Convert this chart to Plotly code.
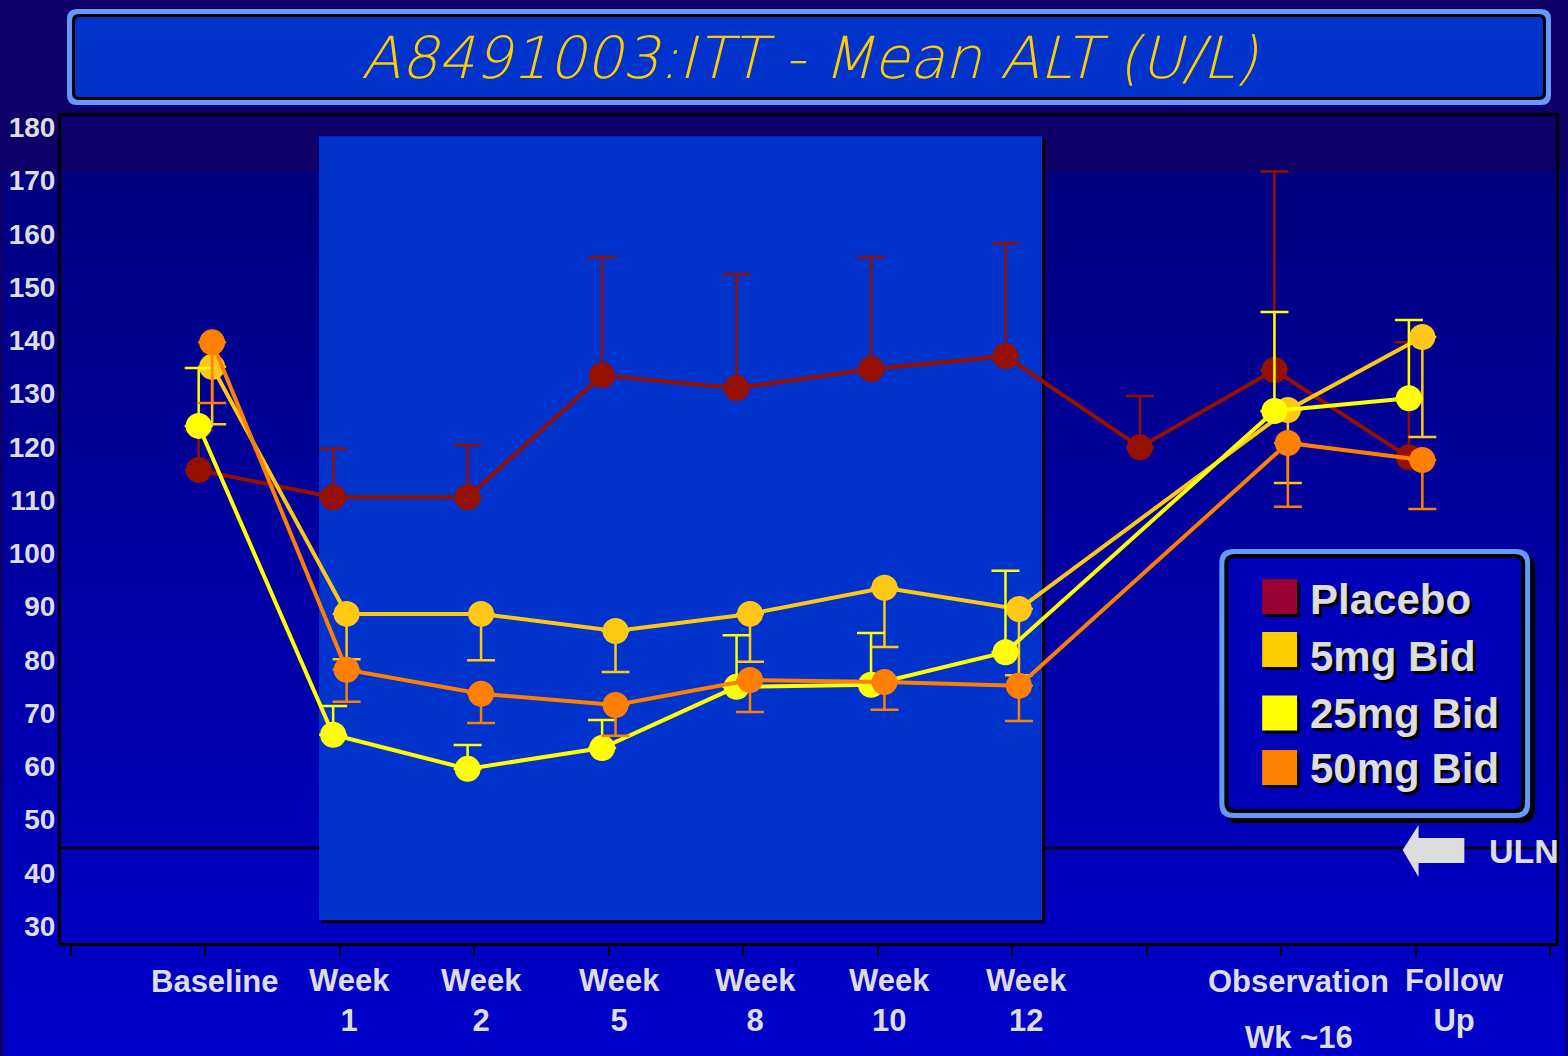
import numpy as np
import plotly.graph_objects as go

# ---------------- data ----------------
categories = ["Baseline", "Week<br>1", "Week<br>2", "Week<br>5", "Week<br>8",
              "Week<br>10", "Week<br>12", "", "Observation", "Follow<br>Up"]
cat_index = [1, 2, 3, 4, 5, 6, 7, 8, 9, 10]

series_names = ["Placebo", "5mg Bid", "25mg Bid", "50mg Bid"]

# Placebo has an extra point at the unlabeled position (index 8)
placebo_idx = [1, 2, 3, 4, 5, 6, 7, 8, 9, 10]
placebo_mean = [115.6, 110.5, 110.5, 133.4, 131.0, 134.6, 137.0, 119.9, 134.4, 118.0]
placebo_err_up = [7.5, 9.1, 9.8, 22.2, 21.4, 21.0, 21.2, 9.6, 37.3, 21.6]
placebo_err_dn = [0, 0, 0, 0, 0, 0, 0, 0, 0, 0]

dose_idx = [1, 2, 3, 4, 5, 6, 7, 9, 10]
mg5_mean = [135.0, 88.6, 88.6, 85.4, 88.6, 93.5, 89.5, 126.9, 140.6]
mg5_err_up = [0, 0, 0, 0, 0, 0, 0, 0, 0]
mg5_err_dn = [10.8, 8.5, 8.7, 7.7, 9.0, 11.1, 12.4, 13.7, 18.8]

mg25_mean = [123.9, 65.9, 59.5, 63.4, 74.9, 75.3, 81.4, 126.7, 129.1]
mg25_err_up = [10.9, 5.4, 4.5, 5.3, 9.7, 9.7, 15.3, 18.6, 14.7]
mg25_err_dn = [0, 0, 0, 0, 0, 0, 0, 0, 0]

mg50_mean = [139.6, 78.1, 73.6, 71.5, 76.2, 75.8, 75.1, 120.7, 117.5]
mg50_err_up = [0, 0, 0, 0, 0, 0, 0, 0, 0]
mg50_err_dn = [11.4, 6.0, 5.5, 5.8, 6.0, 5.2, 6.6, 12.0, 9.2]

uln_value = 44.65
y_ticks = [30, 40, 50, 60, 70, 80, 90, 100, 110, 120, 130, 140, 150, 160, 170, 180]
title_text = "A8491003:ITT - Mean ALT (U/L)"
obs_sub_label = "Wk ~16"
uln_label = "ULN"

# ---------------- style ----------------
line_colors = ["#961000", "#FFC814", "#FFFF00", "#FF8000"]
swatch_colors = ["#990033", "#FFCC00", "#FFFF00", "#FF8000"]
x_offsets = [-0.05, 0.05, -0.05, 0.05]
label_nudge_px = [10, 10, 7, 11, 12, 12, 14, 0, 17, 39]
TXT = "#DDDDDD"
FONT = "Liberation Sans, Arial, sans-serif"

W_FIG, H_FIG = 1568, 1056
L, R, T, B = 58, 1559, 116, 943
PW, PH = R - L, B - T


def X(p):
    return (p - L) / PW


def Y(p):
    return (B - p) / PH


def rrect(x0, y0, x1, y1, r):
    return (f"M {X(x0+r)},{Y(y0)} L {X(x1-r)},{Y(y0)} Q {X(x1)},{Y(y0)} {X(x1)},{Y(y0+r)} "
            f"L {X(x1)},{Y(y1-r)} Q {X(x1)},{Y(y1)} {X(x1-r)},{Y(y1)} "
            f"L {X(x0+r)},{Y(y1)} Q {X(x0)},{Y(y1)} {X(x0)},{Y(y1-r)} "
            f"L {X(x0)},{Y(y0+r)} Q {X(x0)},{Y(y0)} {X(x0+r)},{Y(y0)} Z")


fig = go.Figure()

all_series = [
    (placebo_idx, placebo_mean, placebo_err_up, placebo_err_dn),
    (dose_idx, mg5_mean, mg5_err_up, mg5_err_dn),
    (dose_idx, mg25_mean, mg25_err_up, mg25_err_dn),
    (dose_idx, mg50_mean, mg50_err_up, mg50_err_dn),
]
for i, (idx, mean, eu, ed) in enumerate(all_series):
    fig.add_trace(go.Scatter(
        x=[v + x_offsets[i] for v in idx], y=mean, name=series_names[i],
        mode="lines+markers",
        line=dict(color=line_colors[i], width=4),
        marker=dict(color=line_colors[i], size=26, line=dict(width=0)),
        error_y=dict(type="data", symmetric=False, array=eu, arrayminus=ed,
                     color=line_colors[i], thickness=2.5, width=14),
        showlegend=False, hoverinfo="skip",
    ))

shapes = []
# background gradient
shapes.append(dict(type="rect", xref="paper", yref="paper", x0=X(0), x1=X(W_FIG),
                   y0=Y(172), y1=Y(0), fillcolor="#0E0069", line=dict(width=0), layer="below"))
nb = 48
edges = np.linspace(172, H_FIG, nb + 1)
c0 = np.array([0, 0, 0x80])
c1 = np.array([0, 0, 0xCC])
for k in range(nb):
    t = (k + 0.5) / nb
    c = c0 + (c1 - c0) * t
    shapes.append(dict(type="rect", xref="paper", yref="paper", x0=X(0), x1=X(W_FIG),
                       y0=Y(edges[k + 1] + 0.5), y1=Y(edges[k]),
                       fillcolor="rgb(%d,%d,%d)" % tuple(c.astype(int)),
                       line=dict(width=0), layer="below"))

# shaded treatment period (shadow + panel)
sx0, sx1 = (317 - 68) / 135, (1043 - 68) / 135
sy_top = 180 - (136 - 127) / 5.327
sy_bot = 180 - (920 - 127) / 5.327
sh = 3 / 135
shapes.append(dict(type="rect", xref="x", yref="y", x0=sx0 + sh, x1=sx1 + sh,
                   y0=sy_bot - 3 / 5.327, y1=sy_top - 3 / 5.327,
                   fillcolor="#000000", line=dict(width=0), layer="below"))
shapes.append(dict(type="rect", xref="x", yref="y", x0=sx0, x1=sx1, y0=sy_bot, y1=sy_top,
                   fillcolor="#0033CC", line=dict(width=0), layer="below"))
# ULN line
shapes.append(dict(type="line", xref="paper", yref="y", x0=0, x1=1, y0=uln_value, y1=uln_value,
                   line=dict(color="#000000", width=2.5), layer="below"))

# title box
shapes.append(dict(type="path", xref="paper", yref="paper", path=rrect(64, 9, 1554, 105, 10),
                   fillcolor="#6699FF", line=dict(width=0), layer="above"))
shapes.append(dict(type="path", xref="paper", yref="paper", path=rrect(69, 14, 1549, 100, 7),
                   fillcolor="#000000", line=dict(width=0), layer="above"))
shapes.append(dict(type="path", xref="paper", yref="paper", path=rrect(72, 17, 1546, 97, 5),
                   fillcolor="#0033CC", line=dict(width=0), layer="above"))

# legend box
shapes.append(dict(type="path", xref="paper", yref="paper", path=rrect(1226, 554, 1538, 823, 14),
                   fillcolor="#000000", line=dict(width=0), layer="above"))
shapes.append(dict(type="path", xref="paper", yref="paper", path=rrect(1221, 549, 1533, 818, 14),
                   fillcolor="#6699FF", line=dict(width=0), layer="above"))
shapes.append(dict(type="path", xref="paper", yref="paper", path=rrect(1226, 554, 1528, 813, 10),
                   fillcolor="#000000", line=dict(width=0), layer="above"))
shapes.append(dict(type="path", xref="paper", yref="paper", path=rrect(1230, 558, 1524, 809, 7),
                   fillcolor="#0000B8", line=dict(width=0), layer="above"))

swatch_y = [596.5, 649.5, 713, 767.5]
text_y = [599, 656, 713, 768]
annotations = []
for i, name in enumerate(series_names):
    yc = swatch_y[i]
    shapes.append(dict(type="rect", xref="paper", yref="paper", x0=X(1267), x1=X(1302),
                       y0=Y(yc + 20.5), y1=Y(yc - 14.5), fillcolor="#000000",
                       line=dict(width=0), layer="above"))
    shapes.append(dict(type="rect", xref="paper", yref="paper", x0=X(1264), x1=X(1299),
                       y0=Y(yc + 17.5), y1=Y(yc - 17.5), fillcolor=swatch_colors[i],
                       line=dict(width=0), layer="above"))
    annotations.append(dict(xref="paper", yref="paper", x=X(1310), y=Y(text_y[i]),
                            xanchor="left", yanchor="middle", text=name, showarrow=False,
                            font=dict(family=FONT, size=42, color=TXT, weight="bold",
                                      shadow="3px 3px 0px #000000")))

# ULN arrow
arrow = [(1405, 850), (1421, 825), (1421, 838), (1467, 838), (1467, 863), (1421, 863), (1421, 877)]
ap = "M " + " L ".join(f"{X(a)},{Y(b)}" for a, b in arrow) + " Z"
shapes.append(dict(type="path", xref="paper", yref="paper", path=ap,
                   fillcolor=TXT, line=dict(width=0), layer="above"))
annotations.append(dict(xref="paper", yref="paper", x=X(1490), y=Y(851), xanchor="left",
                        yanchor="middle", text=uln_label, showarrow=False,
                        font=dict(family=FONT, size=34, color=TXT, weight="bold")))

# title
annotations.append(dict(xref="paper", yref="paper", x=X(810), y=Y(58), xanchor="center",
                        yanchor="middle", text=title_text, showarrow=False,
                        font=dict(family="DejaVu Sans Light, DejaVu Sans ExtraLight, DejaVu Sans",
                                  size=58, color="#FFCC00", weight=200, style="italic")))

# x category labels
for i, lab in enumerate(categories):
    if not lab:
        continue
    two = "<br>" in lab
    annotations.append(dict(xref="x", yref="paper", x=cat_index[i], xshift=label_nudge_px[i],
                            y=Y(1000 if two else 981), xanchor="center", yanchor="middle",
                            text=lab, showarrow=False,
                            font=dict(family=FONT, size=31, color=TXT, weight="bold")))
annotations.append(dict(xref="x", yref="paper", x=9, xshift=18, y=Y(1037), xanchor="center",
                        yanchor="middle", text=obs_sub_label, showarrow=False,
                        font=dict(family=FONT, size=31, color=TXT, weight="bold")))

fig.update_layout(
    width=W_FIG, height=H_FIG,
    margin=dict(l=L, r=W_FIG - R, t=T, b=H_FIG - B, pad=0),
    paper_bgcolor="#0E0069", plot_bgcolor="rgba(0,0,0,0)",
    shapes=shapes, annotations=annotations, showlegend=False,
    xaxis=dict(range=[-0.074, 11.044], tickvals=list(range(12)), showticklabels=False,
               ticks="outside", ticklen=10, tickwidth=2, tickcolor="#000000",
               showline=True, linecolor="#000000", linewidth=3, mirror=True,
               showgrid=False, zeroline=False, fixedrange=True),
    yaxis=dict(range=[26.8, 182.1], tickvals=y_ticks, ticks="", ticklabelstandoff=-3,
               tickfont=dict(family=FONT, size=28, color=TXT, weight="bold"),
               showline=True, linecolor="#000000", linewidth=3, mirror=True,
               showgrid=False, zeroline=False, fixedrange=True),
)

fig.write_html("out.html", config={"displayModeBar": False},
               post_script="document.body.style.margin='0px';document.body.style.overflow='hidden';")
